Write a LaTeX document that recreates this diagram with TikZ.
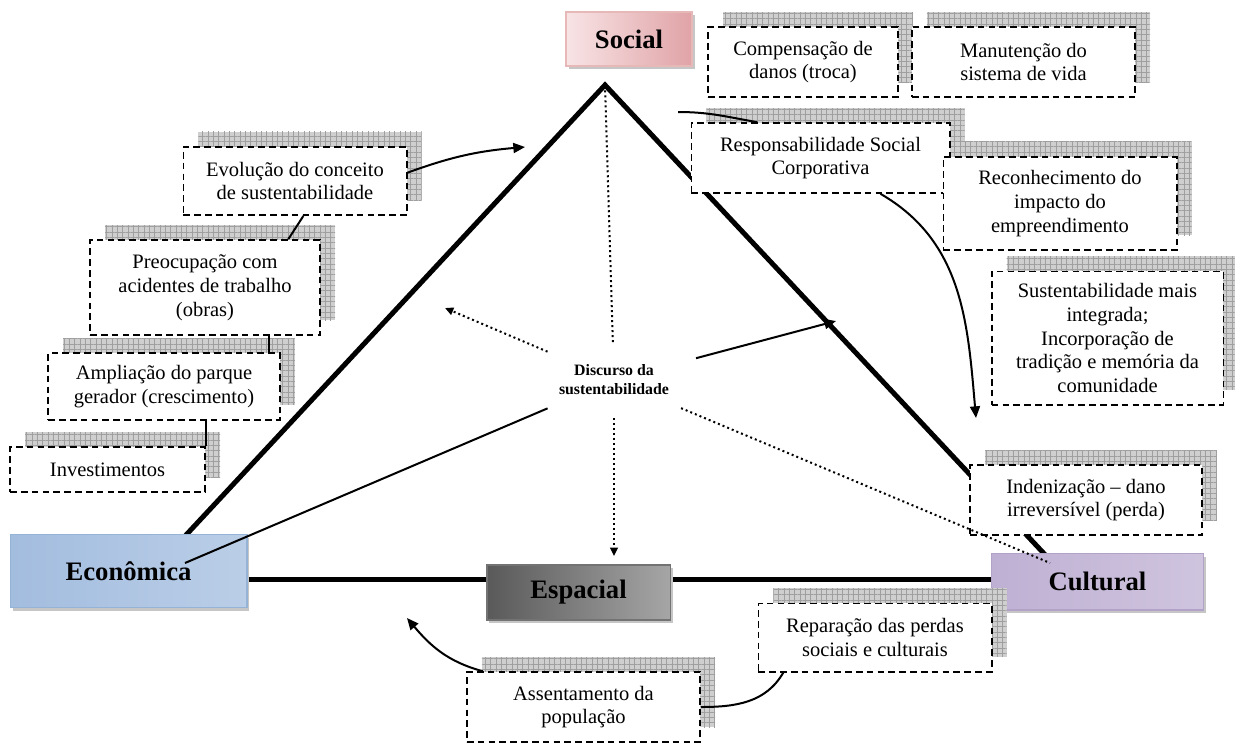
\documentclass[tikz,border=0pt]{standalone}
\usepackage{fontspec}
\setmainfont{Liberation Serif}
\usetikzlibrary{arrows.meta,shadows,patterns.meta,shapes.geometric}

\definecolor{rosaClaro}{HTML}{F8E4E5}
\definecolor{rosaEscuro}{HTML}{E0A3A7}
\definecolor{rosaBorda}{HTML}{E6B9B8}
\definecolor{azulClaro}{HTML}{DDE7F3}
\definecolor{azulEscuro}{HTML}{A3BDDF}
\definecolor{azulBorda}{HTML}{95B3D7}
\definecolor{lilasClaro}{HTML}{E9E3F0}
\definecolor{lilasEscuro}{HTML}{BEB0D3}
\definecolor{lilasBorda}{HTML}{B3A2C7}

\begin{document}
\begin{tikzpicture}[
    x=0.6pt, y=-0.6pt,
    font=\fontsize{12.3}{14.3}\selectfont,
    eixo/.style={line width=3pt},
    dimensao/.style={
        rectangle, draw, line width=0.8pt,
        font=\fontsize{16}{19}\selectfont\bfseries,
        general shadow={fill=gray!45, shadow xshift=1.5pt, shadow yshift=-2pt}
    },
    nota/.style={
        rectangle, draw, dash pattern=on 4pt off 2.5pt, line width=1pt,
        fill=white, align=center, inner sep=2pt,
        general shadow={fill=gray!38, shadow xshift=9pt, shadow yshift=9pt},
        general shadow={pattern={Hatch[angle=0, distance=3.2pt, line width=0.3pt]},
            pattern color=gray!75, shadow xshift=9pt, shadow yshift=9pt}
    },
    seta/.style={-{Triangle[length=7pt,width=6pt]}, line width=1.2pt},
    fio/.style={line width=1.2pt},
    pontos/.style={dash pattern=on 1.2pt off 1.8pt, line width=1.2pt},
    ponta/.style={-{Triangle[length=5pt,width=4.5pt]}},
]
    \useasboundingbox (0,0) rectangle (1235,744);

    % Triangle corners.
    \coordinate (topo) at (605,85);
    \coordinate (cantoEsq) at (173,549);
    \coordinate (cantoDir) at (1050,560);
    \coordinate (baseEsq) at (240,579);
    \coordinate (baseDir) at (1000,579);

    \draw[eixo] (cantoEsq) -- (topo) -- (cantoDir);
    \draw[eixo] (baseEsq) -- (baseDir);

    % ---------- Dimensions ----------
    \node[dimensao, draw=rosaBorda, left color=rosaClaro, right color=rosaEscuro,
        minimum width=75.6pt, minimum height=32.4pt] (social) at (629,39) {Social};
    \node[dimensao, draw=azulBorda, left color=azulEscuro, middle color=azulClaro,
        right color=azulEscuro!60!azulClaro,
        minimum width=142pt, minimum height=44pt] (economica) at (128.5,571) {Econômica};
    \node[dimensao, draw=black!55, left color=black!65, middle color=black!22,
        right color=black!35,
        minimum width=110pt, minimum height=33pt] (espacial) at (578.5,592.5) {Espacial};
    \node[dimensao, draw=lilasBorda, left color=lilasEscuro, middle color=lilasClaro,
        right color=lilasEscuro!60!lilasClaro,
        minimum width=127pt, minimum height=34pt] (cultural) at (1097.5,581.5) {Cultural};

    % ---------- Left column ----------
    \node[nota, minimum width=134pt, minimum height=41pt] (evolucao) at (295,181)
        {Evolução do conceito\\de sustentabilidade};
    \node[nota, minimum width=138pt, minimum height=57pt] (preocupacao) at (205,287.5)
        {Preocupação com\\acidentes de trabalho\\(obras)};
    \node[nota, minimum width=139pt, minimum height=40pt] (ampliacao) at (164,386.5)
        {Ampliação do parque\\gerador (crescimento)};
    \node[nota, minimum width=117pt, minimum height=27pt] (investimentos) at (107.5,469.5)
        {Investimentos};

    % ---------- Right column ----------
    \node[nota, minimum width=114pt, minimum height=42pt] (compensacao) at (803,62)
        {Compensação de\\danos (troca)};
    \node[nota, minimum width=134pt, minimum height=42pt] (manutencao) at (1023.5,62)
        {Manutenção do\\sistema de vida};
    \node[nota, minimum width=155pt, minimum height=42pt] (responsabilidade) at (820.5,158)
        {Responsabilidade Social\\Corporativa};
    \node[nota, minimum width=140pt, minimum height=56pt] (reconhecimento) at (1060,203.5)
        {Reconhecimento do\\impacto do\\empreendimento};
    \node[nota, minimum width=139pt, minimum height=80pt] (integrada) at (1107.5,338)
        {Sustentabilidade mais\\integrada;\\Incorporação de\\tradição e memória da\\comunidade};
    \node[nota, minimum width=139pt, minimum height=42pt] (indenizacao) at (1086,500)
        {Indenização -- dano\\irreversível (perda)};

    % ---------- Bottom ----------
    \node[nota, minimum width=140pt, minimum height=41pt] (reparacao) at (875,637.5)
        {Reparação das perdas\\sociais e culturais};
    \node[nota, minimum width=140pt, minimum height=42pt] (assentamento) at (583.5,707)
        {Assentamento da\\população};

    % ---------- Centre ----------
    \node[ellipse, minimum width=120pt, minimum height=45pt, inner sep=0pt, align=center,
        font=\fontsize{9.5}{11.5}\selectfont\bfseries] (discurso) at (614,380)
        {Discurso da\\sustentabilidade};

    % Free ends of connectors.
    \coordinate (alvoEvolucao) at (525,147);
    \coordinate (ladoSocial) at (678,112);
    \coordinate (alvoIntegrada) at (976,418);
    \coordinate (alvoNoroeste) at (445,308);
    \coordinate (pontoEconomica) at (185,563);
    \coordinate (ladoCultural) at (836,321);
    \coordinate (fimCultural) at (1050,563);
    \coordinate (alvoEspacial) at (407,618);

    % Chain on the left.
    \draw[fio] (investimentos.north east) -- (investimentos.north east |- ampliacao.south);
    \draw[fio] ([xshift=63pt]ampliacao.north) -- ([xshift=63pt]ampliacao.north |- preocupacao.south);
    \draw[fio] ([xshift=50pt]preocupacao.north) -- ([xshift=5pt]evolucao.south);
    \draw[seta] ([yshift=5pt]evolucao.east) to[out=20, in=185] (alvoEvolucao);

    % Right side.
    \draw[fio] (ladoSocial) to[out=0, in=170] ([xshift=-38pt]responsabilidade.north);
    \draw[seta] ([xshift=36pt]responsabilidade.south) to[out=-30, in=95] (alvoIntegrada);

    % From the discourse.
    \draw[pontos] (discurso) -- (topo);
    \draw[pontos, ponta] (discurso) -- (alvoNoroeste);
    \draw[pontos, ponta, shorten >=5pt] (discurso.south) -- (discurso.south |- espacial.north);
    \draw[pontos] (discurso) -- (fimCultural);
    \draw[fio] (discurso) -- (pontoEconomica);
    \draw[seta] (discurso) -- (ladoCultural);

    % Bottom.
    \draw[fio] (assentamento.east) to[out=0, in=-120] ([xshift=-55pt]reparacao.south);
    \draw[seta] ([xshift=10pt]assentamento.north west) to[out=165, in=-50] (alvoEspacial);

\end{tikzpicture}
\end{document}
